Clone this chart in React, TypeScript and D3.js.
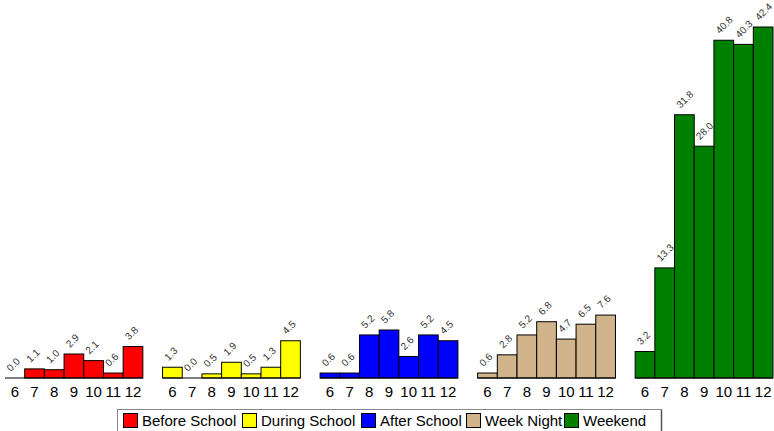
import React from "react";
import * as d3 from "d3";

const hours = ["6", "7", "8", "9", "10", "11", "12"];
const seriesNames = ["Before School", "During School", "After School", "Week Night", "Weekend"];
const seriesColors = ["#ff0000", "#ffff00", "#0000ff", "#d2b48c", "#008000"];
const beforeSchool = [0.0, 1.1, 1.0, 2.9, 2.1, 0.6, 3.8];
const duringSchool = [1.3, 0.0, 0.5, 1.9, 0.5, 1.3, 4.5];
const afterSchool = [0.6, 0.6, 5.2, 5.8, 2.6, 5.2, 4.5];
const weekNight = [0.6, 2.8, 5.2, 6.8, 4.7, 6.5, 7.6];
const weekend = [3.2, 13.3, 31.8, 28.0, 40.8, 40.3, 42.4];

const seriesValues = [beforeSchool, duringSchool, afterSchool, weekNight, weekend];

const W = 774;
const H = 431;
const baseY = 378;
const FONT = "'Liberation Sans', Arial, sans-serif";

export default function App() {
  const outer = d3.scaleBand<string>().domain(seriesNames).range([5, 773]).paddingInner(0.125).paddingOuter(0);
  const inner = d3.scaleBand<string>().domain(hours).range([0, outer.bandwidth()]).padding(0);
  const y = d3.scaleLinear().domain([0, 42.4]).range([baseY, 27]);
  const bw = inner.bandwidth();
  const legendSwatchX = [123, 242, 361, 466, 564];

  return (
    <svg width={W} height={H} style={{ position: "absolute", left: 0, top: 0, background: "#fff" }}>
      {seriesNames.map((name, si) => {
        const x0 = outer(name)!;
        return (
          <g key={name} transform={`translate(${x0},0)`}>
            {seriesValues[si].map((v, i) => {
              const bx = inner(hours[i])!;
              const top = y(v);
              const cx = bx + bw / 2;
              return (
                <g key={i}>
                  <rect x={bx} y={top} width={bw} height={baseY - top}
                    fill={seriesColors[si]} stroke="#000" strokeWidth={1} />
                  <text transform={`translate(${cx - 4},${top - 6}) rotate(-45)`}
                    fontFamily={FONT} fontSize={10} fill="#333">{v.toFixed(1)}</text>
                  <text x={cx} y={397} textAnchor="middle" fontFamily={FONT} fontSize={15} fill="#000">{hours[i]}</text>
                </g>
              );
            })}
            <line x1={0} x2={outer.bandwidth()} y1={baseY} y2={baseY} stroke="#000" strokeWidth={1} />
          </g>
        );
      })}
      <rect x={117.5} y={409.5} width={544} height={30} fill="#fff" stroke="#888" strokeWidth={1} />
      <line x1={661.5} x2={661.5} y1={410} y2={431} stroke="#555" strokeWidth={1.5} />
      {seriesNames.map((name, si) => (
        <g key={name}>
          <rect x={legendSwatchX[si] + 0.5} y={413.5} width={14} height={14} fill={seriesColors[si]} stroke="#000" strokeWidth={1} />
          <text x={legendSwatchX[si] + 19} y={426} fontFamily={FONT} fontSize={15} fill="#000">{name}</text>
        </g>
      ))}
    </svg>
  );
}
